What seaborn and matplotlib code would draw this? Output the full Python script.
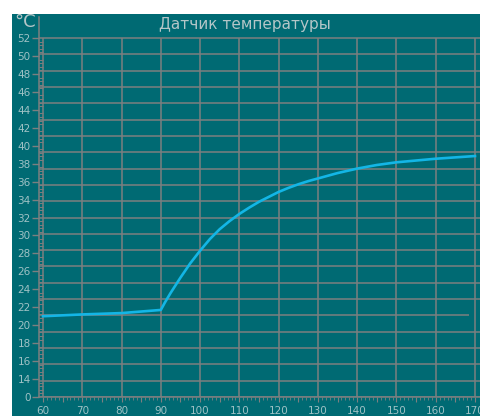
import numpy as np
import pandas as pd
import matplotlib
matplotlib.use("Agg")
import matplotlib.pyplot as plt
import seaborn as sns
from matplotlib.patches import Rectangle

# ---- data ----
time_s = [60, 70, 80, 90, 91, 92.5, 95, 97.5, 100, 102.5, 105, 107.5, 110,
          112.5, 115, 117.5, 120, 122.5, 125, 127.5, 130, 135, 140, 145,
          150, 155, 160, 165, 170]
temp_c = [21.0, 21.2, 21.35, 21.7, 22.5, 23.6, 25.3, 26.9, 28.3, 29.6,
          30.7, 31.6, 32.4, 33.1, 33.75, 34.3, 34.85, 35.3, 35.7, 36.05,
          36.35, 36.95, 37.45, 37.85, 38.15, 38.35, 38.55, 38.7, 38.85]
y_tick_values = list(range(12, 53, 2))
y_tick_labels = ["0"] + [str(v) for v in range(14, 53, 2)]
x_tick_values = list(range(60, 171, 10))
x_tick_labels = [str(v) for v in x_tick_values]
title = "Датчик температуры"
unit = "°C"

# ---- style ----
BG = "#006a73"
GRID = "#7d7f80"
TXT = "#9fc2c5"
TITLE_C = "#b4c6c8"
LINE_C = "#13b6e6"

W, H = 481, 416
fig = plt.figure(figsize=(W / 100, H / 100), dpi=100, facecolor="white")
fig.patches.append(Rectangle((12 / W, 0), 1 - 12 / W, 1 - 14 / H,
                             transform=fig.transFigure, facecolor=BG,
                             edgecolor="none", zorder=-10))

ax = fig.add_axes([39 / W, 1 - 397 / H, (W - 39) / W, (397 - 17) / H])
ax.set_facecolor(BG)
ax.patch.set_alpha(0)

px_per_x = (475 - 43) / 110.0
px_per_y = (396.7 - 38) / 40.0
x_lo = 60 - (43 - 39) / px_per_x
x_hi = 170 + (W - 475) / px_per_x
y_lo = 12
y_hi = 52 + (38 - 17) / px_per_y
ax.set_xlim(x_lo, x_hi)
ax.set_ylim(y_lo, y_hi)

# grid
hgrid = np.linspace(12, 52, 23)
for i, yv in enumerate(hgrid):
    xe = x_hi
    if i == 5:
        xe = 60 + (469 - 43) / px_per_x
    ax.plot([x_lo, xe], [yv, yv], color=GRID, lw=1.1, zorder=1,
            solid_capstyle="butt")
for xv in x_tick_values:
    ax.plot([xv, xv], [12, 52], color=GRID, lw=1.1, zorder=1,
            solid_capstyle="butt")

df = pd.DataFrame({"t": time_s, "T": temp_c})
sns.lineplot(data=df, x="t", y="T", ax=ax, color=LINE_C, lw=1.9, zorder=3)
ax.set_xlabel("")
ax.set_ylabel("")

for s in ["top", "right"]:
    ax.spines[s].set_visible(False)
for s in ["left", "bottom"]:
    ax.spines[s].set_color(GRID)
    ax.spines[s].set_linewidth(1.1)

ax.set_yticks(y_tick_values)
ax.set_yticklabels(y_tick_labels)
ax.set_yticks(np.arange(12, 52.01, 0.4), minor=True)
ax.tick_params(axis="y", which="major", direction="out", length=5, width=1,
               color=GRID, labelcolor=TXT, labelsize=7.5, pad=1)
ax.tick_params(axis="y", which="minor", direction="in", length=3, width=0.7,
               color=GRID)

x_major = list(range(60, 171, 5))
ax.set_xticks(x_major)
ax.set_xticklabels([str(v) if v % 10 == 0 else "" for v in x_major])
ax.set_xticks(np.arange(60, 171, 1), minor=True)
ax.tick_params(axis="x", which="major", direction="out", length=3.5, width=0.8,
               color=GRID, labelcolor=TXT, labelsize=7.5, pad=3)
ax.tick_params(axis="x", which="minor", direction="out", length=2, width=0.6,
               color=GRID)

fig.text(245 / W, 1 - 25 / H, title, ha="center", va="center",
         color=TITLE_C, fontsize=11, family="DejaVu Sans")
fig.text(25 / W, 1 - 22 / H, unit, ha="center", va="center",
         color=TITLE_C, fontsize=13, family="DejaVu Sans")

fig.savefig("out.png", dpi=100, facecolor="white")
